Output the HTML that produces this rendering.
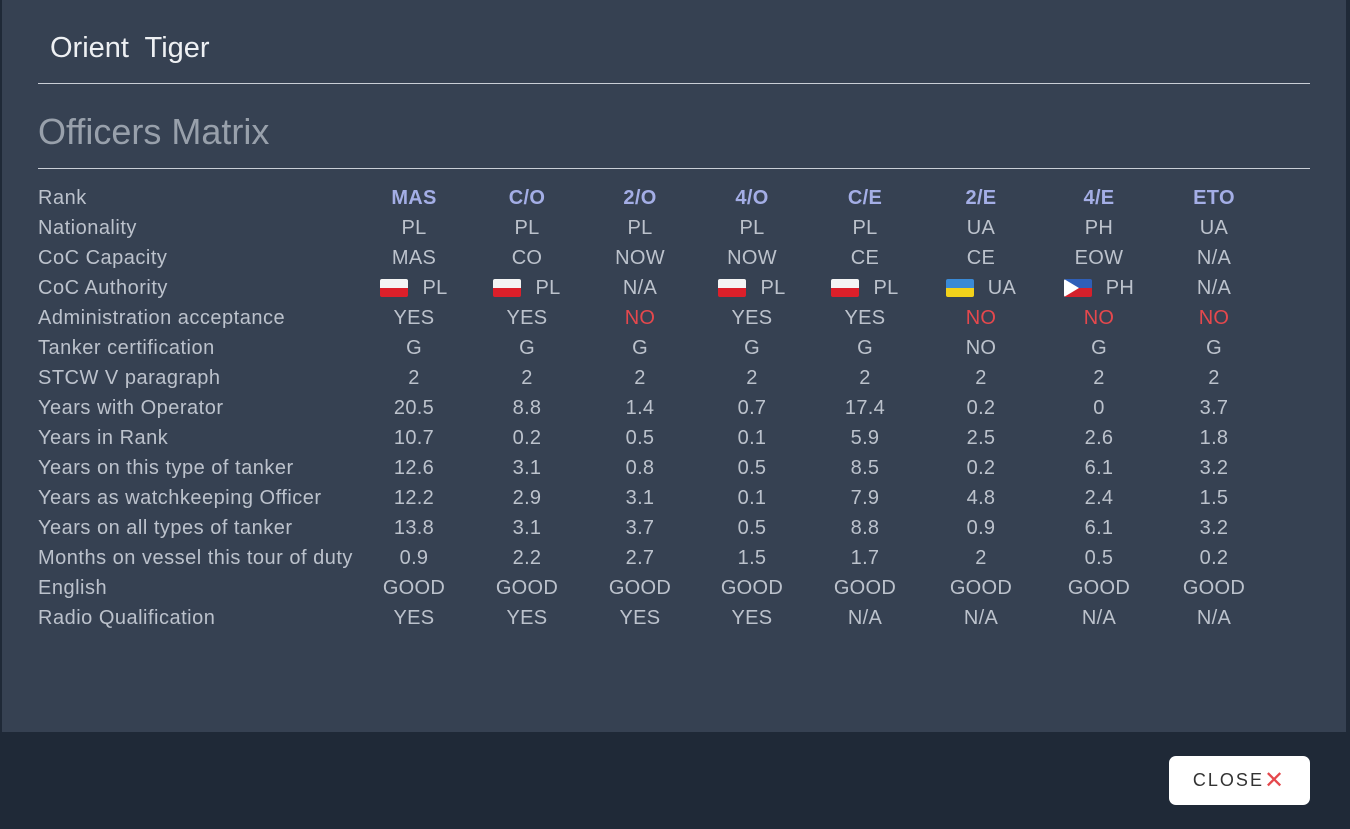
<!DOCTYPE html>
<html><head><meta charset="utf-8"><style>
html,body{margin:0;padding:0;width:1350px;height:829px;overflow:hidden;background:#1f2937;font-family:"Liberation Sans",sans-serif}
.panel{position:absolute;left:2px;top:0;width:1344px;height:732px;background:#364152}
.foot{position:absolute;left:0;top:732px;width:1350px;height:97px;background:#1f2937}
.title{position:absolute;left:50px;top:32px;font-size:29px;color:#eef0f3}
.hr{position:absolute;left:38px;width:1272px;height:1px;background:#c9ced6}
.h2{position:absolute;left:38px;top:111px;font-size:36px;color:#98a0ab}
.row{position:absolute;left:0;width:1350px;height:30px;line-height:30px;font-size:20px;color:#bcc2cc}
.row .l{position:absolute;left:38px;letter-spacing:0.5px}
.row span.c{position:absolute;width:140px;text-align:center;white-space:nowrap;letter-spacing:0.3px}
.hd span.c{color:#a4aee6;font-weight:bold}
.f{display:inline-block;width:28px;height:18px;vertical-align:-3px;margin-right:14px;border-radius:2px}
.pl{background:linear-gradient(#f4f4f4 50%,#dc1f2a 50%)}
.ua{background:linear-gradient(#3a8ad6 50%,#f2d21b 50%)}
.ph{background:linear-gradient(#2f5fb8 50%,#d5202b 50%);position:relative;overflow:hidden}
.ph:before{content:"";position:absolute;left:0;top:0;border-left:15px solid #fff;border-top:9px solid transparent;border-bottom:9px solid transparent}
.btn{position:absolute;left:1169px;top:756px;width:141px;height:49px;background:#fff;border-radius:7px;font-size:18px;letter-spacing:2px;color:#333;line-height:49px;text-align:center}
.btn b{color:#e5484d;font-weight:normal;font-size:24px;vertical-align:-2px}
</style></head><body>
<div class="panel"></div><div class="foot"></div>
<div class="title">Orient&nbsp; Tiger</div>
<div class="hr" style="top:83px"></div>
<div class="h2">Officers Matrix</div>
<div class="hr" style="top:168px"></div>

<div class="row hd" style="top:183px"><span class="l" style="color:#bcc2cc;font-weight:normal">Rank</span><span class="c" style="left:344px">MAS</span><span class="c" style="left:457px">C/O</span><span class="c" style="left:570px">2/O</span><span class="c" style="left:682px">4/O</span><span class="c" style="left:795px">C/E</span><span class="c" style="left:911px">2/E</span><span class="c" style="left:1029px">4/E</span><span class="c" style="left:1144px">ETO</span></div>
<div class="row" style="top:213px"><span class="l">Nationality</span><span class="c" style="left:344px">PL</span><span class="c" style="left:457px">PL</span><span class="c" style="left:570px">PL</span><span class="c" style="left:682px">PL</span><span class="c" style="left:795px">PL</span><span class="c" style="left:911px">UA</span><span class="c" style="left:1029px">PH</span><span class="c" style="left:1144px">UA</span></div>
<div class="row" style="top:243px"><span class="l">CoC Capacity</span><span class="c" style="left:344px">MAS</span><span class="c" style="left:457px">CO</span><span class="c" style="left:570px">NOW</span><span class="c" style="left:682px">NOW</span><span class="c" style="left:795px">CE</span><span class="c" style="left:911px">CE</span><span class="c" style="left:1029px">EOW</span><span class="c" style="left:1144px">N/A</span></div>
<div class="row" style="top:273px"><span class="l">CoC Authority</span><span class="c" style="left:344px"><i class="f pl"></i>PL</span><span class="c" style="left:457px"><i class="f pl"></i>PL</span><span class="c" style="left:570px">N/A</span><span class="c" style="left:682px"><i class="f pl"></i>PL</span><span class="c" style="left:795px"><i class="f pl"></i>PL</span><span class="c" style="left:911px"><i class="f ua"></i>UA</span><span class="c" style="left:1029px"><i class="f ph"></i>PH</span><span class="c" style="left:1144px">N/A</span></div>
<div class="row" style="top:303px"><span class="l">Administration acceptance</span><span class="c" style="left:344px">YES</span><span class="c" style="left:457px">YES</span><span class="c" style="left:570px;color:#e5484d">NO</span><span class="c" style="left:682px">YES</span><span class="c" style="left:795px">YES</span><span class="c" style="left:911px;color:#e5484d">NO</span><span class="c" style="left:1029px;color:#e5484d">NO</span><span class="c" style="left:1144px;color:#e5484d">NO</span></div>
<div class="row" style="top:333px"><span class="l">Tanker certification</span><span class="c" style="left:344px">G</span><span class="c" style="left:457px">G</span><span class="c" style="left:570px">G</span><span class="c" style="left:682px">G</span><span class="c" style="left:795px">G</span><span class="c" style="left:911px">NO</span><span class="c" style="left:1029px">G</span><span class="c" style="left:1144px">G</span></div>
<div class="row" style="top:363px"><span class="l">STCW V paragraph</span><span class="c" style="left:344px">2</span><span class="c" style="left:457px">2</span><span class="c" style="left:570px">2</span><span class="c" style="left:682px">2</span><span class="c" style="left:795px">2</span><span class="c" style="left:911px">2</span><span class="c" style="left:1029px">2</span><span class="c" style="left:1144px">2</span></div>
<div class="row" style="top:393px"><span class="l">Years with Operator</span><span class="c" style="left:344px">20.5</span><span class="c" style="left:457px">8.8</span><span class="c" style="left:570px">1.4</span><span class="c" style="left:682px">0.7</span><span class="c" style="left:795px">17.4</span><span class="c" style="left:911px">0.2</span><span class="c" style="left:1029px">0</span><span class="c" style="left:1144px">3.7</span></div>
<div class="row" style="top:423px"><span class="l">Years in Rank</span><span class="c" style="left:344px">10.7</span><span class="c" style="left:457px">0.2</span><span class="c" style="left:570px">0.5</span><span class="c" style="left:682px">0.1</span><span class="c" style="left:795px">5.9</span><span class="c" style="left:911px">2.5</span><span class="c" style="left:1029px">2.6</span><span class="c" style="left:1144px">1.8</span></div>
<div class="row" style="top:453px"><span class="l">Years on this type of tanker</span><span class="c" style="left:344px">12.6</span><span class="c" style="left:457px">3.1</span><span class="c" style="left:570px">0.8</span><span class="c" style="left:682px">0.5</span><span class="c" style="left:795px">8.5</span><span class="c" style="left:911px">0.2</span><span class="c" style="left:1029px">6.1</span><span class="c" style="left:1144px">3.2</span></div>
<div class="row" style="top:483px"><span class="l">Years as watchkeeping Officer</span><span class="c" style="left:344px">12.2</span><span class="c" style="left:457px">2.9</span><span class="c" style="left:570px">3.1</span><span class="c" style="left:682px">0.1</span><span class="c" style="left:795px">7.9</span><span class="c" style="left:911px">4.8</span><span class="c" style="left:1029px">2.4</span><span class="c" style="left:1144px">1.5</span></div>
<div class="row" style="top:513px"><span class="l">Years on all types of tanker</span><span class="c" style="left:344px">13.8</span><span class="c" style="left:457px">3.1</span><span class="c" style="left:570px">3.7</span><span class="c" style="left:682px">0.5</span><span class="c" style="left:795px">8.8</span><span class="c" style="left:911px">0.9</span><span class="c" style="left:1029px">6.1</span><span class="c" style="left:1144px">3.2</span></div>
<div class="row" style="top:543px"><span class="l">Months on vessel this tour of duty</span><span class="c" style="left:344px">0.9</span><span class="c" style="left:457px">2.2</span><span class="c" style="left:570px">2.7</span><span class="c" style="left:682px">1.5</span><span class="c" style="left:795px">1.7</span><span class="c" style="left:911px">2</span><span class="c" style="left:1029px">0.5</span><span class="c" style="left:1144px">0.2</span></div>
<div class="row" style="top:573px"><span class="l">English</span><span class="c" style="left:344px">GOOD</span><span class="c" style="left:457px">GOOD</span><span class="c" style="left:570px">GOOD</span><span class="c" style="left:682px">GOOD</span><span class="c" style="left:795px">GOOD</span><span class="c" style="left:911px">GOOD</span><span class="c" style="left:1029px">GOOD</span><span class="c" style="left:1144px">GOOD</span></div>
<div class="row" style="top:603px"><span class="l">Radio Qualification</span><span class="c" style="left:344px">YES</span><span class="c" style="left:457px">YES</span><span class="c" style="left:570px">YES</span><span class="c" style="left:682px">YES</span><span class="c" style="left:795px">N/A</span><span class="c" style="left:911px">N/A</span><span class="c" style="left:1029px">N/A</span><span class="c" style="left:1144px">N/A</span></div>

<div class="btn">CLOSE<b>✕</b></div>
</body></html>
